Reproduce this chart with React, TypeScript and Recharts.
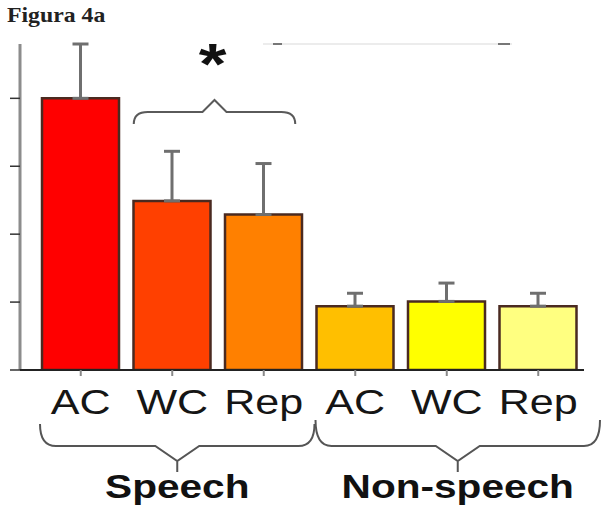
import React from 'react';
import { BarChart, Bar, XAxis, YAxis, ErrorBar, Cell } from 'recharts';

const groups = ['Speech', 'Non-speech'];
const conditions = ['AC', 'WC', 'Rep', 'AC', 'WC', 'Rep'];
const barIds = ['s-ac', 's-wc', 's-rep', 'n-ac', 'n-wc', 'n-rep'];
const means = [4.0, 2.49, 2.29, 0.94, 1.01, 0.94];
const errorsUp = [0.8, 0.73, 0.75, 0.19, 0.27, 0.19];
const barColors = ['#ff0000', '#ff4000', '#ff8000', '#ffbf00', '#ffff00', '#ffff80'];
const yTicks = [0, 1, 2, 3, 4];
const yMax = 4.8;

const data = barIds.map((id, i) => ({
  id,
  label: conditions[i],
  value: means[i],
  err: [0, errorsUp[i]],
}));

const W = 604;
const H = 506;
const M = { top: 44, right: 20, bottom: 106, left: 10 };
const Y_AXIS_W = 10;
const X_AXIS_H = 30;
const PAD_LEFT = 15;
const plotLeft = M.left + Y_AXIS_W;
const plotRight = W - M.right;
const bandW = (plotRight - plotLeft - PAD_LEFT) / barIds.length;
const bandStart = (i: number) => plotLeft + PAD_LEFT + bandW * i;
const bandCenter = (i: number) => bandStart(i) + bandW / 2;
const BAR_SIZE = 77;
const SX = 1.23;

const XTick = (props: any) => {
  const { x, y, index } = props;
  return (
    <g transform={`translate(${x},${y + 36})`}>
      <text
        transform={`scale(${SX},1)`}
        textAnchor="middle"
        fontFamily="'Liberation Sans', Arial, sans-serif"
        fontSize={35}
        fill="#151515"
      >
        {conditions[index]}
      </text>
    </g>
  );
};

const EmptyTick = () => <g />;

const braceDown = (x0: number, x1: number, yTop: number, yLine: number, yTip: number) => {
  const xc = (x0 + x1) / 2;
  return `M ${x0} ${yTop} Q ${x0} ${yLine} ${x0 + 16} ${yLine} L ${xc - 22} ${yLine} L ${xc} ${yLine + 15} L ${xc + 22} ${yLine} L ${x1 - 16} ${yLine} Q ${x1} ${yLine} ${x1} ${yTop} M ${xc} ${yLine + 15} L ${xc} ${yTip}`;
};

const braceUp = (x0: number, x1: number, yEnd: number, yLine: number, yTip: number) => {
  const xc = (x0 + x1) / 2;
  return `M ${x0} ${yEnd} Q ${x0} ${yLine} ${x0 + 14} ${yLine} L ${xc - 12} ${yLine} L ${xc} ${yTip} L ${xc + 12} ${yLine} L ${x1 - 14} ${yLine} Q ${x1} ${yLine} ${x1} ${yEnd}`;
};

export default function App() {
  const g0x0 = bandStart(0) + 5;
  const g0x1 = bandStart(3) + 5;
  const g1x0 = bandStart(3) + 6;
  const g1x1 = bandStart(6) + 16;
  const ubx0 = bandCenter(1) - BAR_SIZE / 2;
  const ubx1 = bandCenter(2) + BAR_SIZE / 2 - 7;
  const ubxc = (ubx0 + ubx1) / 2 - 2;
  return (
    <div style={{ position: 'absolute', left: 0, top: 0, width: W, height: H, background: '#fff' }}>
      <div
        style={{
          position: 'absolute',
          left: 7,
          top: 2,
          fontFamily: "'Liberation Serif', 'Times New Roman', serif",
          fontWeight: 'bold',
          fontSize: 22,
          color: '#222',
          lineHeight: '26px',
          transform: 'scaleX(1.08)',
          transformOrigin: 'left top',
        }}
      >
        Figura 4a
      </div>
      <BarChart width={W} height={H} data={data} margin={M} barSize={BAR_SIZE}>
        <YAxis
          width={Y_AXIS_W}
          domain={[0, yMax]}
          ticks={yTicks}
          allowDataOverflow
          tick={EmptyTick}
          tickSize={10}
          axisLine={{ stroke: '#8c8c8c', strokeWidth: 3 }}
          tickLine={{ stroke: '#333', strokeWidth: 1.5 }}
        />
        <XAxis
          dataKey="id"
          height={X_AXIS_H}
          padding={{ left: PAD_LEFT, right: 0 }}
          tick={XTick}
          tickSize={6}
          interval={0}
          axisLine={{ stroke: '#222', strokeWidth: 2 }}
          tickLine={{ stroke: '#888', strokeWidth: 2 }}
        />
        <Bar dataKey="value" isAnimationActive={false}>
          {data.map((d, i) => (
            <Cell key={d.id} fill={barColors[i]} stroke="#4a2a20" strokeWidth={2.5} />
          ))}
          <ErrorBar dataKey="err" width={8} stroke="#6f6f6f" strokeWidth={3} direction="y" />
        </Bar>
      </BarChart>
      <svg width={W} height={H} style={{ position: 'absolute', left: 0, top: 0, pointerEvents: 'none' }}>
        <line x1={263} y1={44} x2={512} y2={44} stroke="#ececec" strokeWidth={2} />
        <line x1={273} y1={44} x2={282} y2={44} stroke="#777" strokeWidth={2} />
        <line x1={498} y1={44} x2={510} y2={44} stroke="#777" strokeWidth={2} />
        <path d={braceUp(ubx0, ubx1, 124, 112, 100)} fill="none" stroke="#5a5a5a" strokeWidth={2} />
        <g transform={`translate(${ubxc},84)`}>
          <text
            transform={`scale(${SX},1)`}
            textAnchor="middle"
            fontFamily="'Liberation Sans', Arial, sans-serif"
            fontWeight="bold"
            fontSize={58}
            fill="#111"
          >
            *
          </text>
        </g>
        <path d={braceDown(g0x0, g0x1, 424, 446, 472)} fill="none" stroke="#555" strokeWidth={2} />
        <path d={braceDown(g1x0, g1x1, 420, 446, 472)} fill="none" stroke="#555" strokeWidth={2} />
        {groups.map((g, i) => {
          const cx = i === 0 ? (g0x0 + g0x1) / 2 : (g1x0 + g1x1) / 2;
          return (
            <g key={g} transform={`translate(${cx},498)`}>
              <text
                transform={`scale(${SX},1)`}
                textAnchor="middle"
                fontFamily="'Liberation Sans', Arial, sans-serif"
                fontWeight="bold"
                fontSize={33}
                fill="#111"
              >
                {g}
              </text>
            </g>
          );
        })}
      </svg>
    </div>
  );
}
